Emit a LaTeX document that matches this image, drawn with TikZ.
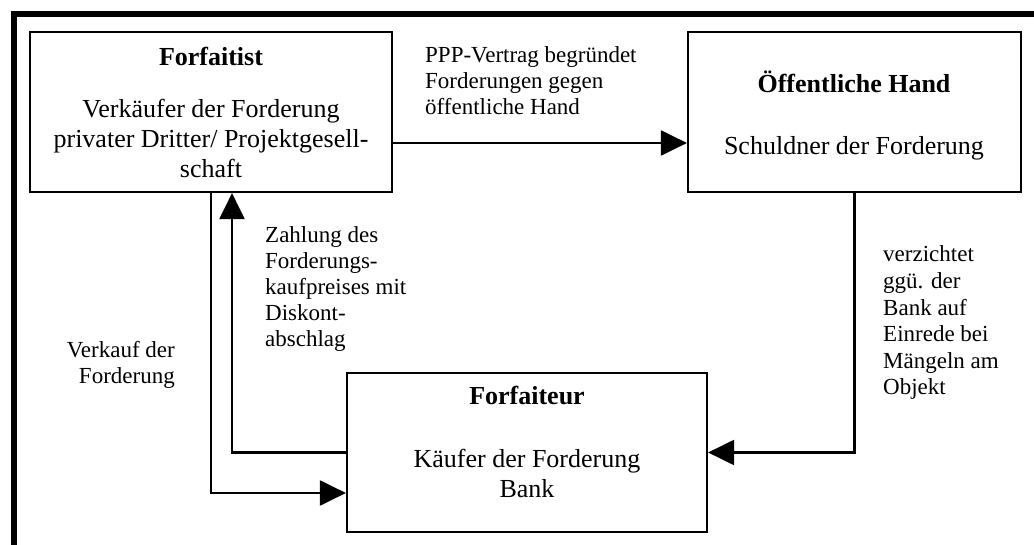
\documentclass[tikz,border=0pt]{standalone}
\usepackage{fontspec}
\setmainfont{Liberation Serif}
\usetikzlibrary{arrows.meta}
\newcommand{\txtblock}[2]{\begin{tabular}[t]{@{}#1@{}}#2\end{tabular}}
\begin{document}
\begin{tikzpicture}[x=1pt,y=-1pt,
  box/.style={draw,line width=2.2pt,inner sep=0pt,minimum width=#1},
  lab/.style={inner sep=0pt,font=\fontsize{23}{26}\selectfont},
  boxtxt/.style={inner sep=0pt,font=\fontsize{26}{30}\selectfont},
  ttl/.style={inner sep=0pt,font=\fontsize{26}{30}\selectfont\bfseries},
  arr/.style={line width=2.2pt,-{Triangle[length=26pt,width=25pt]}},
  frame/.style={line width=5.5pt,line join=miter}]
\useasboundingbox (0,0) rectangle (1034,545);
\fill[white] (0,0) rectangle (1034,545);
\draw[frame] (14,545) -- (14,14) -- (1034,14);

% boxes
\node[box=362pt,minimum height=160pt] (forf) at (211,112) {};
\node[box=333pt,minimum height=160pt] (oeff) at (854.5,112) {};
\node[box=360pt,minimum height=159pt] (fteur) at (527,452.5) {};

% box texts
\node[ttl,anchor=base] (forfT) at (211,66) {Forfaitist};
\node[boxtxt,anchor=base] (forfB) at (211,118) {\txtblock{c}{Verkäufer der Forderung\\privater Dritter/ Projektgesell-\\schaft}};
\node[ttl,anchor=base] (oeffT) at (854,93) {Öffentliche Hand};
\node[boxtxt,anchor=base] (oeffB) at (854,155) {Schuldner der Forderung};
\node[ttl,anchor=base] (fteurT) at (527,405) {Forfaiteur};
\node[boxtxt,anchor=base] (fteurB) at (527,467) {\txtblock{c}{Käufer der Forderung\\Bank}};

% connectors
\draw[arr] (forf.east |- 0,143) -- (oeff.west |- 0,143);
\draw[arr] (oeff.south) |- (fteur.east);
\draw[arr] (forf.south) |- (fteur.west |- 0,493);
\draw[arr] (fteur.west) -| (forf.south -| 232,0);

% connector labels
\node[lab,anchor=base west] (pppL) at (425,63) {\txtblock{l}{PPP-Vertrag begründet\\Forderungen gegen\\öffentliche Hand}};
\node[lab,anchor=base west] (zahlL) at (265,243) {\txtblock{l}{Zahlung des\\Forderungs-\\kaufpreises mit\\Diskont-\\abschlag}};
\node[lab,anchor=base east] (verkL) at (175,358) {\txtblock{r}{Verkauf der\\Forderung}};
\node[lab,anchor=base west,font=\fontsize{23}{26.6}\selectfont] (verzL) at (883,262) {\txtblock{l}{verzichtet\\ggü. der\\Bank auf\\Einrede bei\\Mängeln am\\Objekt}};
\end{tikzpicture}
\end{document}
